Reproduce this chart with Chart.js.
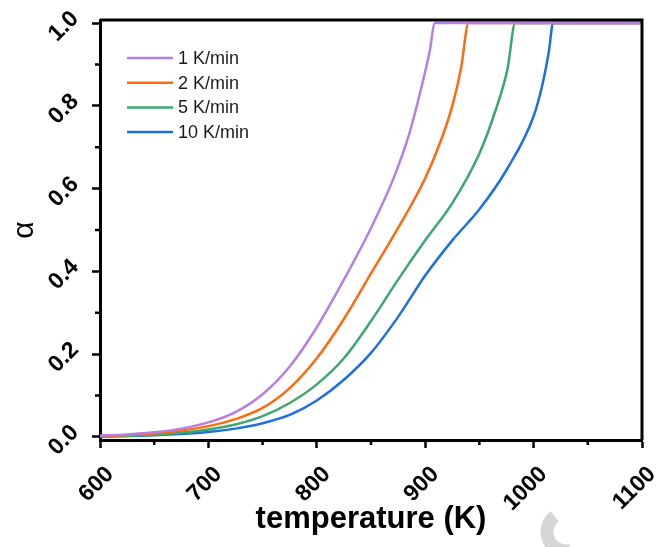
<!DOCTYPE html>
<html>
<head>
<meta charset="utf-8">
<script src="https://cdn.jsdelivr.net/npm/chart.js@4.4.1/dist/chart.umd.min.js"></script>
<style>
  html, body { margin: 0; padding: 0; background: #ffffff; }
  #wrap { width: 663px; height: 547px; position: relative; }
</style>
</head>
<body>
<div id="wrap"><canvas id="chart" width="663" height="547"></canvas></div>
<script>
// Conversion fraction alpha versus temperature for four heating rates
const seriesLabels = ['1 K/min', '2 K/min', '5 K/min', '10 K/min'];
const seriesColors = ['#b57fe3', '#ff6a10', '#3ba86c', '#1e6fe3'];

const temp1  = [600, 625, 650, 675, 700, 725, 750, 775, 800, 825, 850, 870, 885, 897, 904, 909, 1100];
const alpha1 = [0.003, 0.006, 0.011, 0.02, 0.035, 0.06, 0.103, 0.17, 0.265, 0.38, 0.505, 0.62, 0.73, 0.85, 0.93, 1.0, 1.0];

const temp2  = [600, 650, 700, 725, 750, 775, 800, 825, 850, 875, 900, 915, 925, 933, 940, 1100];
const alpha2 = [0.002, 0.008, 0.026, 0.043, 0.07, 0.118, 0.19, 0.285, 0.395, 0.505, 0.625, 0.72, 0.80, 0.89, 1.0, 1.0];

const temp5  = [600, 650, 700, 725, 750, 775, 800, 825, 850, 875, 900, 925, 950, 965, 976, 983, 1100];
const alpha5 = [0.001, 0.005, 0.018, 0.03, 0.05, 0.082, 0.127, 0.19, 0.28, 0.38, 0.475, 0.565, 0.685, 0.79, 0.89, 1.0, 1.0];

const temp10  = [600, 650, 700, 725, 750, 775, 800, 825, 850, 875, 900, 925, 950, 975, 1000, 1008, 1014, 1018, 1100];
const alpha10 = [0.001, 0.004, 0.012, 0.02, 0.033, 0.053, 0.088, 0.138, 0.203, 0.29, 0.39, 0.475, 0.55, 0.645, 0.775, 0.85, 0.93, 1.0, 1.0];

const xTickValues = [600, 700, 800, 900, 1000, 1100];
const xMinorTicks = [650, 750, 850, 950, 1050];
const yTickValues = [0, 0.2, 0.4, 0.6, 0.8, 1.0];
const yMinorTicks = [0.1, 0.3, 0.5, 0.7, 0.9];

const temps = [temp1, temp2, temp5, temp10];
const alphas = [alpha1, alpha2, alpha5, alpha10];

const FONT = "'Liberation Sans', Arial, Helvetica, sans-serif";

function toPoints(xs, ys) {
  return xs.map((x, i) => ({ x: x, y: ys[i] }));
}

const datasets = seriesLabels.map((label, i) => ({
  label: label,
  data: toPoints(temps[i], alphas[i]),
  borderColor: seriesColors[i],
  backgroundColor: seriesColors[i],
  borderWidth: 2.5,
  pointRadius: 0,
  fill: false,
  cubicInterpolationMode: 'monotone'
}));

// Short minor ticks and the closing frame on the top and right
const framePlugin = {
  id: 'frame',
  afterDraw(chart) {
    const { ctx, chartArea: a, scales } = chart;
    ctx.save();
    ctx.strokeStyle = '#000';
    ctx.lineWidth = 2.5;
    ctx.beginPath();
    xMinorTicks.forEach(v => {
      const px = scales.x.getPixelForValue(v);
      ctx.moveTo(px, a.bottom);
      ctx.lineTo(px, a.bottom + 5);
    });
    yMinorTicks.forEach(v => {
      const py = scales.y.getPixelForValue(v);
      ctx.moveTo(a.left, py);
      ctx.lineTo(a.left - 5, py);
    });
    ctx.stroke();
    ctx.lineWidth = 3;
    ctx.beginPath();
    ctx.moveTo(a.left, a.top);
    ctx.lineTo(a.right, a.top);
    ctx.lineTo(a.right, a.bottom);
    ctx.stroke();
    ctx.restore();
  }
};

// Legend drawn inside the plot, line samples followed by labels
const insideLegend = {
  id: 'insideLegend',
  afterDraw(chart) {
    const { ctx, chartArea: a } = chart;
    const x0 = a.left + 27, len = 46, y0 = a.top + 38, step = 24.7;
    ctx.save();
    ctx.font = '18px ' + FONT;
    ctx.textBaseline = 'middle';
    ctx.textAlign = 'left';
    chart.data.datasets.forEach((ds, i) => {
      const y = y0 + i * step;
      ctx.strokeStyle = ds.borderColor;
      ctx.lineWidth = 2.5;
      ctx.beginPath();
      ctx.moveTo(x0, y);
      ctx.lineTo(x0 + len, y);
      ctx.stroke();
      ctx.fillStyle = '#1a1a1a';
      ctx.fillText(ds.label, x0 + len + 5, y + 1);
    });
    ctx.restore();
  }
};

// Faint mark near the lower edge of the page
const faintMark = {
  id: 'faintMark',
  beforeDraw(chart) {
    const { ctx } = chart;
    ctx.save();
    ctx.strokeStyle = '#d6d6d6';
    ctx.lineWidth = 13;
    ctx.beginPath();
    ctx.arc(566, 532, 19, Math.PI * 0.42, Math.PI * 1.3);
    ctx.stroke();
    ctx.restore();
  }
};

new Chart(document.getElementById('chart'), {
  type: 'line',
  data: { datasets: datasets },
  options: {
    responsive: false,
    animation: false,
    devicePixelRatio: 1,
    layout: { padding: { left: 0, top: 20, right: 21, bottom: 0 } },
    plugins: {
      legend: { display: false },
      tooltip: { enabled: false }
    },
    scales: {
      x: {
        type: 'linear',
        position: 'bottom',
        min: 600,
        max: 1100,
        afterBuildTicks: s => { s.ticks = xTickValues.map(v => ({ value: v })); },
        afterFit: s => { s.height = 107; s.paddingLeft = 0; s.paddingRight = 0; },
        ticks: {
          autoSkip: false,
          minRotation: 45,
          maxRotation: 45,
          labelOffset: 10,
          padding: 13,
          color: '#000',
          font: { family: FONT, size: 23, weight: 'bold' },
          callback: v => String(v)
        },
        grid: { display: true, drawOnChartArea: false, tickLength: 8, tickWidth: 2.5, tickColor: '#000' },
        border: { display: true, color: '#000', width: 3 },
        title: {
          display: true,
          text: 'temperature (K)',
          color: '#000',
          font: { family: FONT, size: 31, weight: 'bold' },
          padding: { top: 0, bottom: 9 }
        }
      },
      y: {
        type: 'linear',
        position: 'left',
        min: -0.0075,
        max: 1.0075,
        afterBuildTicks: s => { s.ticks = yTickValues.map(v => ({ value: v })); },
        afterFit: s => { s.width = 100; s.paddingTop = 0; s.paddingBottom = 0; },
        ticks: {
          autoSkip: false,
          minRotation: 45,
          maxRotation: 45,
          labelOffset: -8,
          padding: 17,
          color: '#000',
          font: { family: FONT, size: 23, weight: 'bold' },
          callback: v => v.toFixed(1)
        },
        grid: { display: true, drawOnChartArea: false, tickLength: 8, tickWidth: 2.5, tickColor: '#000' },
        border: { display: true, color: '#000', width: 3 },
        title: {
          display: true,
          text: 'α',
          color: '#000',
          font: { family: FONT, size: 30 },
          padding: { top: 7, bottom: 0 }
        }
      }
    }
  },
  plugins: [framePlugin, insideLegend, faintMark]
});
</script>
</body>
</html>
